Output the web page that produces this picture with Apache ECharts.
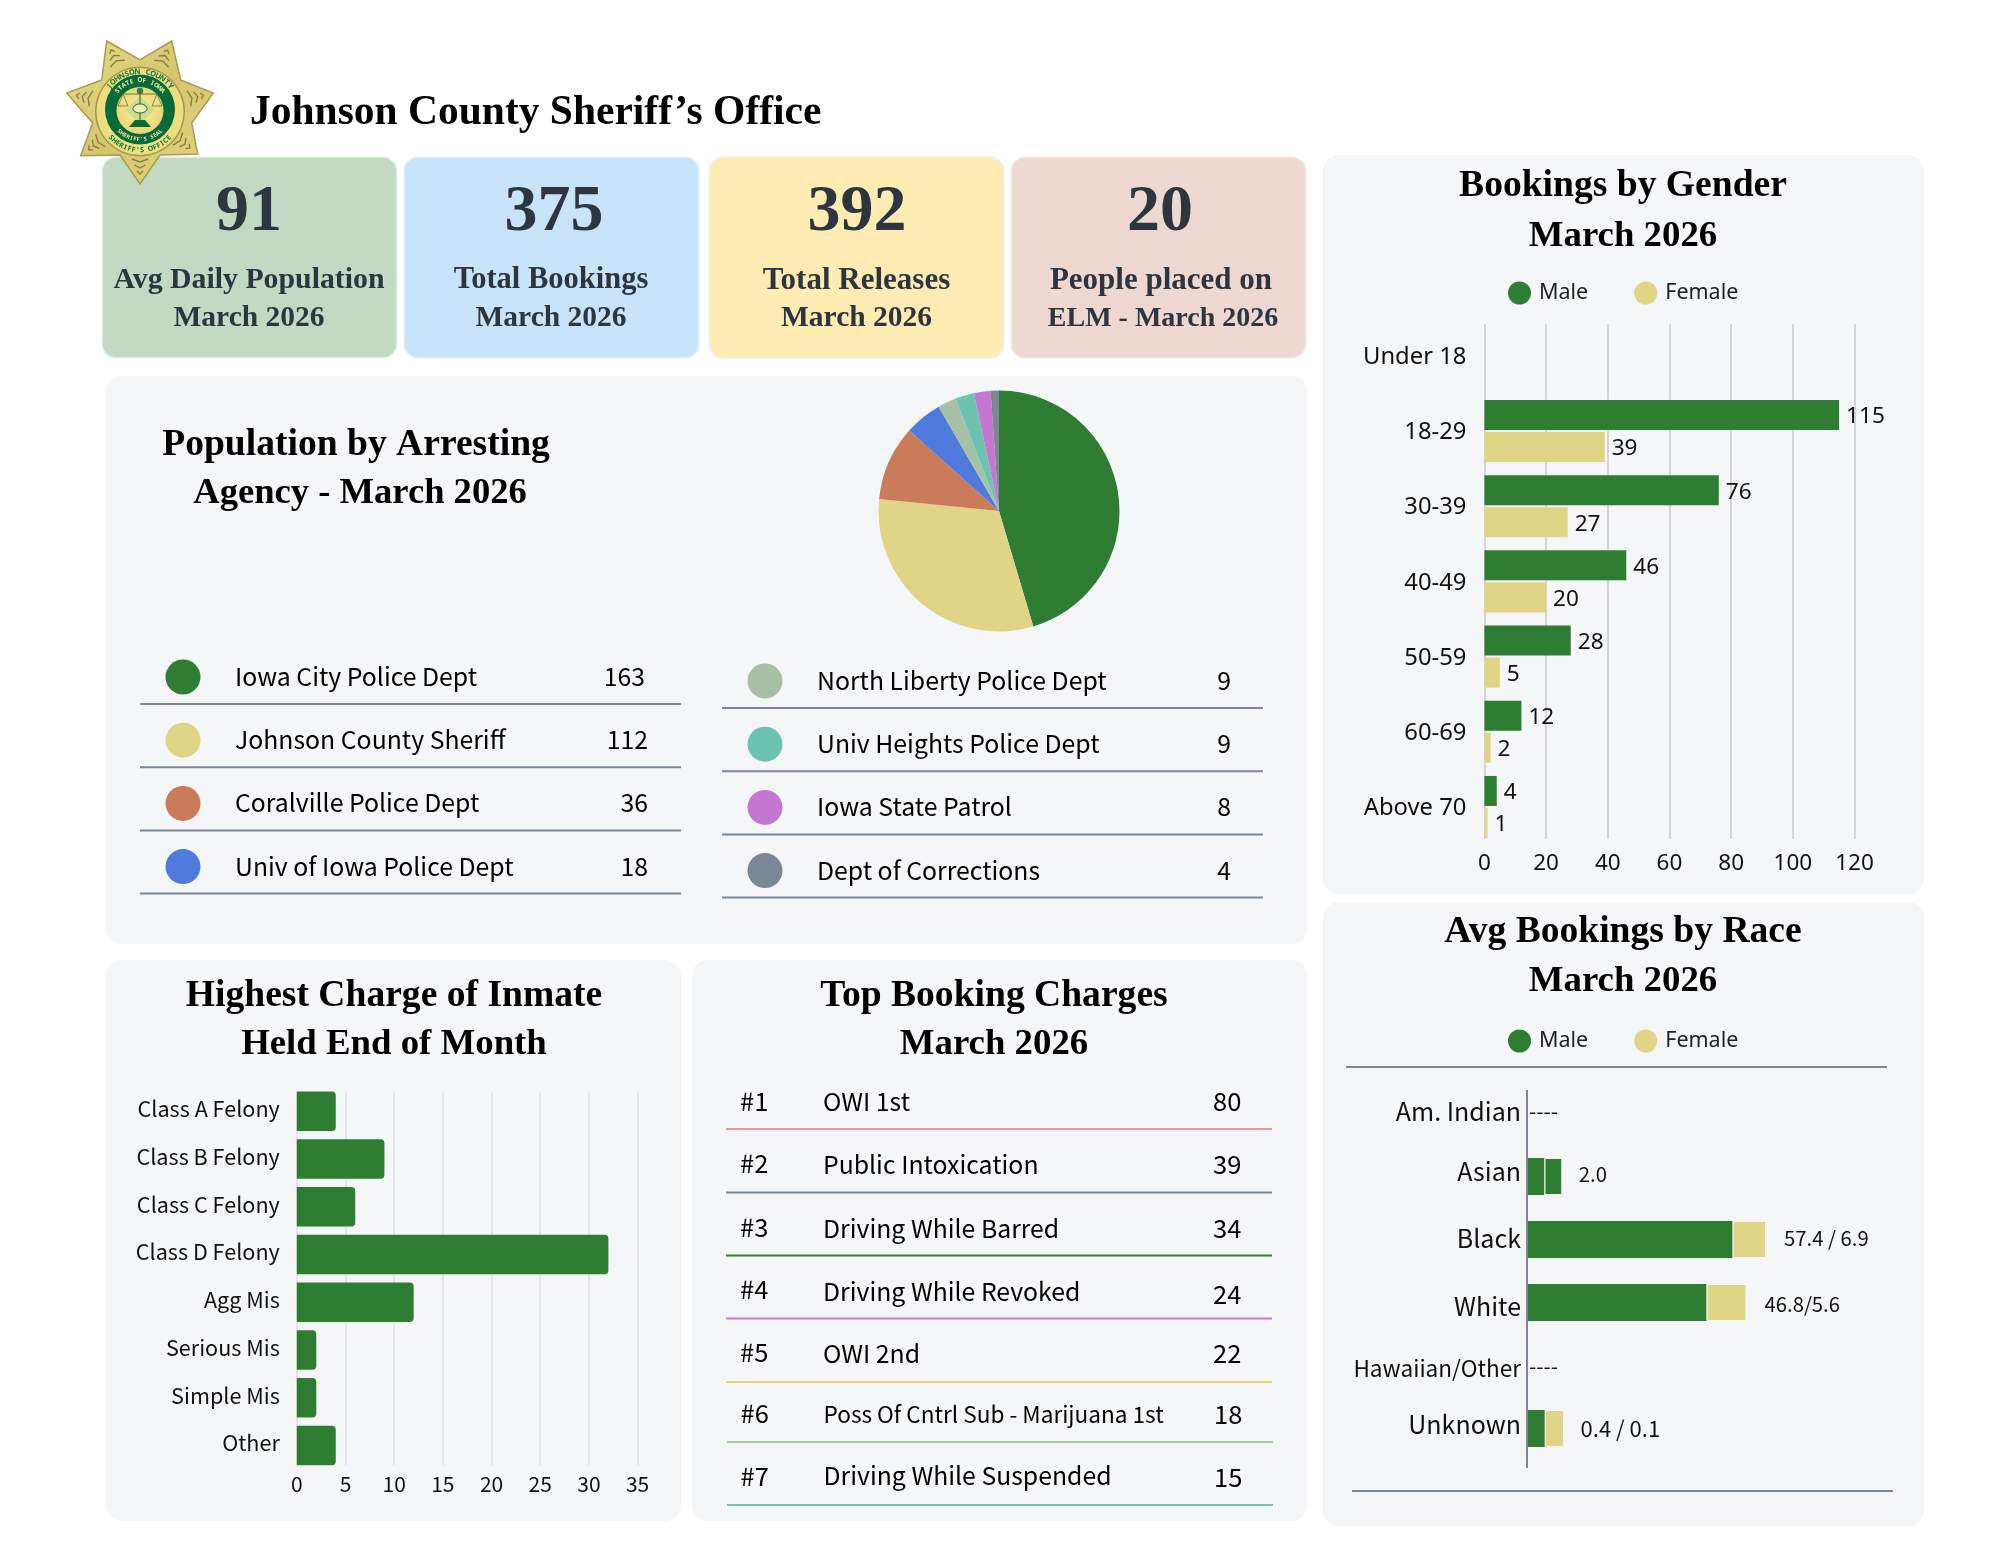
<!DOCTYPE html>
<html>
<head>
<meta charset="utf-8">
<title>Johnson County Sheriff's Office</title>
<script src="https://cdn.jsdelivr.net/npm/echarts@6/dist/echarts.min.js"></script>
<style>
  html, body { margin: 0; padding: 0; background: #ffffff; }
  #main { width: 2000px; height: 1545px; }
</style>
</head>
<body>
<div id="main"></div>
<script>
// chart data
const cardValues = ["91", "375", "392", "20"];
const cardLine1 = ["Avg Daily Population", "Total Bookings", "Total Releases", "People placed on"];
const cardLine2 = ["March 2026", "March 2026", "March 2026", "ELM - March 2026"];

const agencyNames = [
  "Iowa City Police Dept", "Johnson County Sheriff", "Coralville Police Dept", "Univ of Iowa Police Dept",
  "North Liberty Police Dept", "Univ Heights Police Dept", "Iowa State Patrol", "Dept of Corrections",
];
const agencyValues = [163, 112, 36, 18, 9, 9, 8, 4];

const chargeClasses = ["Class A Felony", "Class B Felony", "Class C Felony", "Class D Felony", "Agg Mis", "Serious Mis", "Simple Mis", "Other"];
const chargeCounts = [4, 9, 6, 32, 12, 2, 2, 4];

const topCharges = ["OWI 1st", "Public Intoxication", "Driving While Barred", "Driving While Revoked", "OWI 2nd", "Poss Of Cntrl Sub - Marijuana 1st", "Driving While Suspended"];
const topChargeCounts = [80, 39, 34, 24, 22, 18, 15];

const ageGroups = ["Under 18", "18-29", "30-39", "40-49", "50-59", "60-69", "Above 70"];
const maleBookings = [null, 115, 76, 46, 28, 12, 4];
const femaleBookings = [null, 39, 27, 20, 5, 2, 1];

const races = ["Am. Indian", "Asian", "Black", "White", "Hawaiian/Other", "Unknown"];
// the bars in the original are not to scale with their printed numbers,
// so the drawn lengths and the printed labels are kept apart
const raceMaleLength = [0, 4.9, 57.7, 50.4, 0, 5];
const raceFemaleLength = [0, 5, 9.4, 11.2, 0, 5.4];
const raceLabels = ["----", "2.0", "57.4 / 6.9", "46.8/5.6", "----", "0.4 / 0.1"];

// colours
const GREEN = "#2e7d32";
const KHAKI = "#e0d587";
const SLATE = "#7b8794";
const PANEL = "#f5f6f8";
const INK = "#2d3640";
const agencyColors = [GREEN, KHAKI, "#c97b5a", "#4f7cdc", "#a8c0a8", "#6cc4b0", "#c478d2", SLATE];
const chargeLineColors = ["#f4929b", SLATE, GREEN, "#c478d2", "#e3d47e", "#a8c8a8", "#6cc4b0"];
const cardColors = ["#c4d9c4", "#c8e4fa", "#ffecb3", "#efd8d2"];

const SERIF = "'Liberation Serif', serif";
const SANS = "'Noto Sans CJK SC', sans-serif";
const PLAIN = "'Noto Sans', sans-serif";

// small helpers for the graphic layer
function label(text, x, y, font, fill, align, z) {
  return {
    type: "text", x: x, y: y, z: z || 20, silent: true,
    style: {
      text: text, font: font, fill: fill || "#000",
      align: align || "left", textAlign: align || "left",
      verticalAlign: "middle", textVerticalAlign: "middle",
    },
  };
}
function rule(x1, y1, x2, y2, color, w) {
  return { type: "line", z: 5, silent: true, shape: { x1: x1, y1: y1, x2: x2, y2: y2 }, style: { stroke: color || SLATE, lineWidth: w || 2 } };
}
function box(x, y, w, h, color, r, stroke) {
  return { type: "rect", z: -10, silent: true, shape: { x: x, y: y, width: w, height: h, r: r }, style: { fill: color, stroke: stroke || null, lineWidth: stroke ? 1.5 : 0 } };
}
function dot(x, y, r, color) {
  return { type: "circle", z: 5, silent: true, shape: { cx: x, cy: y, r: r }, style: { fill: color } };
}
// moves an axis label up or down: the line box sits on one side of the tick
function nudge(d) {
  return { verticalAlign: d > 0 ? "top" : "bottom", lineHeight: Math.abs(d) * 2 };
}

const graphics = [];

// panels
graphics.push(box(106, 376, 1201, 568, PANEL, 16));
graphics.push(box(106, 960, 575, 561, PANEL, 16));
graphics.push(box(692, 960, 615, 561, PANEL, 16));
graphics.push(box(1323, 155, 601, 739, PANEL, 16));
graphics.push(box(1323, 902, 601, 624, PANEL, 16));

// header
graphics.push(label("Johnson County Sheriff\u2019s Office", 250, 113, "bold 41.5px " + SERIF));

// value cards
const cardX = [102, 404, 709, 1011];
const cardCenter = [249, 554, 857, 1160];
const cardTextCenter = [249, 551, 856.5, 1161];
const cardLine1Font = ["bold 29.8px ", "bold 30.5px ", "bold 31px ", "bold 31px "];
cardValues.forEach((v, i) => {
  graphics.push(box(cardX[i], 157, 295, 201, cardColors[i], 14, "#eef1f3"));
  graphics.push(label(v, cardCenter[i], 212.5, "bold 66px " + SERIF, INK, "center"));
  graphics.push(label(cardLine1[i], cardTextCenter[i], 280.5, cardLine1Font[i] + SERIF, INK, "center"));
  graphics.push(label(cardLine2[i], i === 3 ? 1163 : cardTextCenter[i], 318.5, (i === 3 ? "bold 28px " : "bold 29.5px ") + SERIF, INK, "center"));
});

// section titles
const TITLE_FONT = "bold 37.6px " + SERIF;
const SUBTITLE_FONT = "bold 36.8px " + SERIF;
graphics.push(label("Population by Arresting", 356, 445, TITLE_FONT, "#000", "center"));
graphics.push(label("Agency - March 2026", 360, 494, "bold 36.6px " + SERIF, "#000", "center"));
graphics.push(label("Highest Charge of Inmate", 394, 996, TITLE_FONT, "#000", "center"));
graphics.push(label("Held End of Month", 394, 1044.5, SUBTITLE_FONT, "#000", "center"));
graphics.push(label("Top Booking Charges", 994, 996, TITLE_FONT, "#000", "center"));
graphics.push(label("March 2026", 994, 1044.5, SUBTITLE_FONT, "#000", "center"));
graphics.push(label("Bookings by Gender", 1623, 186.5, TITLE_FONT, "#000", "center"));
graphics.push(label("March 2026", 1623, 236.5, SUBTITLE_FONT, "#000", "center"));
graphics.push(label("Avg Bookings by Race", 1623, 932, TITLE_FONT, "#000", "center"));
graphics.push(label("March 2026", 1623, 981, SUBTITLE_FONT, "#000", "center"));

// agency list under the pie, two columns of four
agencyNames.forEach((name, i) => {
  const right = i >= 4;
  const row = i % 4;
  const y = (right ? 681 : 677) + row * 63.2;
  graphics.push(dot(right ? 765 : 183, y, 17.5, agencyColors[i]));
  graphics.push(label(name, right ? 817 : 235, y - 0.5, "24.8px " + SANS));
  graphics.push(label(String(agencyValues[i]), i === 0 ? 645 : (right ? 1231 : 648), y - 0.5, "24.8px " + SANS, "#000", "right"));
  const lineY = y + 27;
  graphics.push(rule(right ? 722 : 140, lineY, right ? 1263 : 681, lineY));
});

// top booking charges table
const rankRowY = [1101, 1163, 1227, 1289, 1352, 1413, 1476];
const chargeRowY = [1102, 1165, 1228.5, 1291.5, 1354, 1414.5, 1476];
const countRowY = [1101, 1164, 1228, 1294.5, 1353, 1414.5, 1477];
const chargeLineY = [1129, 1192.5, 1255.5, 1318.5, 1382, 1442, 1505];
topCharges.forEach((name, i) => {
  const font = i === 5 ? "22.6px " + SANS : "24.8px " + SANS;
  const dx = i > 4 ? 1 : 0;
  graphics.push(label("#" + (i + 1), 740 + dx / 2, rankRowY[i], "25.5px " + SANS));
  graphics.push(label(name, 823 + dx / 2, chargeRowY[i], font));
  graphics.push(label(String(topChargeCounts[i]), 1213 + dx, countRowY[i], "25.5px " + SANS));
  graphics.push(rule(726 + dx, chargeLineY[i], 1272 + dx, chargeLineY[i], chargeLineColors[i]));
});

// race chart rules and axis
graphics.push(rule(1346, 1067, 1887, 1067));
graphics.push(rule(1352, 1491, 1893, 1491));
graphics.push(rule(1527, 1090, 1527, 1468));

// badge
const BX = 140, BY = 110;
const starTips = [[106.7, 41], [171.7, 41], [213.3, 93], [197.7, 154], [140, 184], [80.7, 155.7], [66.7, 93]];
const starNotches = [[140, 60], [180.7, 80], [191.7, 123], [160, 155], [120, 155], [92.7, 123], [101.7, 80]];
const starPoints = [];
starTips.forEach((t, i) => { starPoints.push(t); starPoints.push(starNotches[i]); });
function oval(cy, r, fill, stroke) {
  return { type: "circle", z: 12, silent: true, shape: { cx: BX, cy: cy, r: r }, style: { fill: fill, stroke: stroke || null, lineWidth: stroke ? 1.5 : 0 } };
}
function glow(inner, outer) {
  return { type: "radial", x: 0.5, y: 0.5, r: 0.5, colorStops: [{ offset: 0, color: inner }, { offset: 1, color: outer }] };
}
function arcText(text, cy, r, centerDeg, stepDeg, font, fill, bottom) {
  const n = text.length;
  text.split("").forEach((ch, i) => {
    const a = (centerDeg + (bottom ? -1 : 1) * (i - (n - 1) / 2) * stepDeg) * Math.PI / 180;
    graphics.push({
      type: "text", z: 14, silent: true,
      x: BX + r * Math.sin(a), y: cy - r * Math.cos(a),
      rotation: bottom ? Math.PI - a : -a,
      style: { text: ch, font: font, fill: fill, align: "center", textAlign: "center", verticalAlign: "middle", textVerticalAlign: "middle" },
    });
  });
}
function stroke(points, color, w) {
  return { type: "polyline", z: 14, silent: true, shape: { points: points }, style: { stroke: color, lineWidth: w, fill: null } };
}
graphics.push({
  type: "polygon", z: 11, silent: true, shape: { points: starPoints },
  style: {
    fill: { type: "linear", x: 0, y: 0, x2: 1, y2: 1, colorStops: [{ offset: 0, color: "#e8dc8a" }, { offset: 0.5, color: "#d5c66e" }, { offset: 1, color: "#e4d680" }] },
    stroke: "#a89b55", lineWidth: 1.5, lineJoin: "miter",
  },
});
// leaf veins in the star points
starTips.forEach((t) => {
  const dx = BX - t[0], dy = BY - t[1];
  const len = Math.sqrt(dx * dx + dy * dy);
  const ux = dx / len, uy = dy / len;
  [10, 16, 22].forEach((d, k) => {
    const cx = t[0] + ux * d, cy = t[1] + uy * d;
    const w = 3 + k * 2.5;
    graphics.push({
      type: "polyline", z: 11.5, silent: true,
      shape: { points: [[cx - uy * w + ux * 3, cy + ux * w + uy * 3], [cx, cy], [cx + uy * w + ux * 3, cy - ux * w + uy * 3]] },
      style: { stroke: "#8c7f3d", lineWidth: 1.4, fill: null },
    });
  });
});
graphics.push(oval(111.5, 45, "#a6994f"));
graphics.push(oval(111.5, 43.5, glow("#f5e88e", "#eedd7c")));
graphics.push(oval(109.5, 35, "#086a38"));
graphics.push(oval(110.5, 23.5, glow("#fff29b", "#e9d67a")));
arcText("JOHNSON COUNTY", 111, 39.3, 0, 7.8, "bold 7.5px " + PLAIN, "#0a7a3f", false);
arcText("SHERIFF'S OFFICE", 111, 39.3, 180, 6.3, "bold 7px " + PLAIN, "#0a7a3f", true);
arcText("STATE OF IOWA", 110, 29.5, 0, 8.3, "bold 6.2px " + PLAIN, "#e8e7a0", false);
arcText("SHERIFF'S SEAL", 110, 29.5, 180, 6.8, "bold 5.6px " + PLAIN, "#e8e7a0", true);
// scales in the centre of the seal
const cy0 = 94;
graphics.push({ type: "polygon", z: 13, silent: true, shape: { points: [[BX, cy0 + 2], [BX + 15, cy0 + 16], [BX, cy0 + 30], [BX - 15, cy0 + 16]] }, style: { fill: "#cddc8e" } });
graphics.push(stroke([[BX - 17, cy0], [BX + 17, cy0]], "#6b7a3e", 1));
graphics.push(stroke([[BX, cy0 - 6], [BX, cy0 + 26]], "#6b7a3e", 1.4));
graphics.push(stroke([[BX - 22, cy0 + 12], [BX - 17, cy0], [BX - 12, cy0 + 12], [BX - 22, cy0 + 12]], "#6b7a3e", 0.8));
graphics.push(stroke([[BX + 22, cy0 + 12], [BX + 17, cy0], [BX + 12, cy0 + 12], [BX + 22, cy0 + 12]], "#6b7a3e", 0.8));
graphics.push({ type: "circle", z: 14, silent: true, shape: { cx: BX, cy: cy0 - 3, r: 3.2 }, style: { fill: "#3d7a4a" } });
graphics.push({ type: "ellipse", z: 14, silent: true, shape: { cx: BX, cy: 108.5, rx: 7, ry: 4.5 }, style: { fill: "#eef0b0", stroke: "#086a38", lineWidth: 1 } });
graphics.push({ type: "polygon", z: 14, silent: true, shape: { points: [[BX - 5, 120], [BX + 5, 120], [BX + 11, 127], [BX - 11, 127]] }, style: { fill: "#086a38" } });

// value axis with gridlines only, used where the lines are shorter than the category bands
function lineGrid(top, bottom, left, right) {
  return { left: left, top: top, width: right - left, height: bottom - top };
}

// vertical nudges of the race labels, the original table is not evenly spaced
const raceNameShift = [-2.5, -5, -1.5, 4, 2.5, -4];
const raceValueShift = [-2.5, -2.5, -1, 2, 1, 0];

const legendBase = {
  data: ["Male", "Female"], left: 1503, icon: "circle", itemWidth: 23, itemHeight: 23, itemGap: 46, selectedMode: false,
  itemStyle: { borderWidth: 0 },
  textStyle: { fontFamily: PLAIN, fontSize: 21.5, color: "#222", padding: [0, 0, 0, 3] },
};

const option = {
  backgroundColor: "#ffffff",
  animation: false,
  textStyle: { fontFamily: SANS, color: "#000" },
  graphic: { elements: graphics },
  legend: [
    Object.assign({}, legendBase, { top: 276.5 }),
    Object.assign({}, legendBase, { top: 1024.5 }),
  ],
  grid: [
    { left: 1484.4, top: 318.2, width: 370.1, height: 526.4 }, // gender bars
    lineGrid(324, 839, 1484.4, 1854.5), // gender gridlines
    { left: 296.8, top: 1087.5, width: 340.8, height: 381.9 }, // charge bars
    lineGrid(1091.6, 1465, 296.8, 637.6), // charge gridlines
    { left: 1527, top: 1082, width: 356.3, height: 378 }, // race bars
  ],
  xAxis: [
    { gridIndex: 0, type: "value", min: 0, max: 120, interval: 20, show: false },
    {
      gridIndex: 1, type: "value", min: 0, max: 120, interval: 20,
      axisLine: { show: false }, axisTick: { show: false },
      axisLabel: { fontFamily: PLAIN, fontSize: 22.5, color: "#111", margin: 13.5 },
      splitLine: { show: true, lineStyle: { color: "#c8cacc", width: 1.5 } },
    },
    { gridIndex: 2, type: "value", min: 0, max: 35, interval: 5, show: false },
    {
      gridIndex: 3, type: "value", min: 0, max: 35, interval: 5,
      axisLine: { show: false }, axisTick: { show: false },
      axisLabel: { fontFamily: SANS, fontSize: 21, color: "#111", margin: 9 },
      splitLine: { show: true, lineStyle: { color: "#dfe1e4", width: 1.5 } },
    },
    { gridIndex: 4, type: "value", min: 0, max: 100, show: false },
  ],
  yAxis: [
    {
      gridIndex: 0, type: "category", inverse: true,
      data: ageGroups.map((g) => ({ value: g, textStyle: nudge(1.5) })),
      axisLine: { show: false }, axisTick: { show: false },
      axisLabel: { fontFamily: PLAIN, fontSize: 23.8, color: "#111", margin: 18 },
    },
    { gridIndex: 1, type: "value", min: 0, max: 1, show: false },
    {
      gridIndex: 2, type: "category", inverse: true,
      data: chargeClasses.map((c) => ({ value: c, textStyle: nudge(-2.5) })),
      axisLine: { show: false }, axisTick: { show: false },
      axisLabel: { fontFamily: SANS, fontSize: 21.6, color: "#111", margin: 17 },
    },
    { gridIndex: 3, type: "value", min: 0, max: 1, show: false },
    {
      gridIndex: 4, type: "category", inverse: true,
      data: races.map((r, i) => {
        const item = { value: r, textStyle: nudge(raceNameShift[i]) };
        if (r === "Hawaiian/Other") item.textStyle.fontSize = 22.6;
        return item;
      }),
      axisLine: { show: false }, axisTick: { show: false },
      axisLabel: { fontFamily: SANS, fontSize: 25, color: "#111", margin: 6 },
    },
  ],
  series: [
    {
      name: "Arresting Agency", type: "pie", center: [999, 511], radius: 120.5, startAngle: 90,
      label: { show: false }, labelLine: { show: false }, silent: true,
      data: agencyNames.map((n, i) => ({ name: n, value: agencyValues[i], itemStyle: { color: agencyColors[i] } })),
    },
    {
      name: "Male", type: "bar", xAxisIndex: 0, yAxisIndex: 0, data: maleBookings,
      barWidth: 30, barGap: "7%", itemStyle: { color: GREEN },
      label: { show: true, position: "right", distance: 7, offset: [0, 2], fontFamily: PLAIN, fontSize: 22.6, color: "#111" },
    },
    {
      name: "Female", type: "bar", xAxisIndex: 0, yAxisIndex: 0, data: femaleBookings,
      barWidth: 30, barGap: "7%", itemStyle: { color: KHAKI },
      label: { show: true, position: "right", distance: 7, offset: [0, 2], fontFamily: PLAIN, fontSize: 22.6, color: "#111" },
    },
    {
      name: "Inmates", type: "bar", xAxisIndex: 2, yAxisIndex: 2, data: chargeCounts,
      barWidth: 39.5, itemStyle: { color: GREEN, borderRadius: [0, 4, 4, 0] },
    },
    {
      name: "Male", type: "bar", xAxisIndex: 4, yAxisIndex: 4, stack: "race", barWidth: 37,
      itemStyle: { color: GREEN },
      data: raceMaleLength,
    },
    {
      name: "Female", type: "bar", xAxisIndex: 4, yAxisIndex: 4, stack: "race", barWidth: 37,
      itemStyle: { color: KHAKI },
      // Asian is drawn as two green segments in the original
      data: raceFemaleLength.map((v, i) => ({
        value: v,
        itemStyle: i === 1 ? { color: GREEN, borderColor: PANEL, borderWidth: 1 } : (v > 0 ? { borderColor: PANEL, borderWidth: 1 } : {}),
        label: {
          fontSize: i === 5 ? 22 : (v > 0 ? 20.3 : 21),
          distance: i === 1 || i === 5 ? 16.5 : (v > 0 ? 18 : 2),
          offset: [0, raceValueShift[i]],
        },
      })),
      label: {
        show: true, position: "right", fontFamily: SANS, color: "#111",
        formatter: (p) => raceLabels[p.dataIndex],
      },
    },
  ],
};

const myChart = echarts.init(document.getElementById("main"));
myChart.setOption(option);
</script>
</body>
</html>
